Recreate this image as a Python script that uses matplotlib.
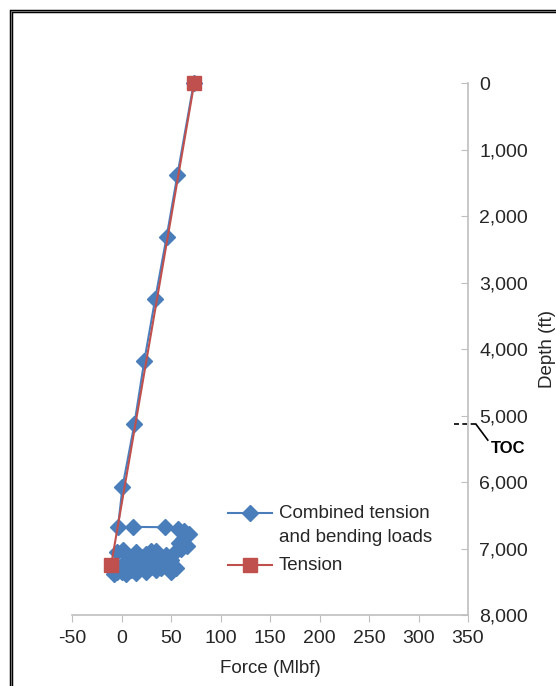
# Casing string loads: combined tension and bending vs. plain tension along depth.
import matplotlib.pyplot as plt
from matplotlib.lines import Line2D
from matplotlib.patches import Rectangle

plt.rcParams['font.family'] = ['Liberation Sans', 'DejaVu Sans']

# Combined tension and bending loads (Mlbf, ft)
combined_force = [73, 56.5, 45.5, 34, 23, 13, 1, -3.5, 12, 44, 57, 63, 68, 62,
                  58, 66, 60, 55, 30, 2, -5, 5, 15, 25, 35, 45, 50, 40, 30,
                  20, 10, 0, -8, 0, 10, 20, 30, 40, 50, 55, 45, 35, 25, 15,
                  5, -5, -8]
combined_depth = [0, 1380, 2320, 3250, 4180, 5130, 6075, 6675, 6675, 6680, 6700,
                  6740, 6780, 6850, 6920, 6960, 7010, 7040, 7040, 7020, 7060,
                  7080, 7060, 7080, 7040, 7100, 7180, 7200, 7180, 7220, 7190,
                  7250, 7300, 7350, 7330, 7300, 7280, 7300, 7350, 7300, 7250,
                  7320, 7350, 7370, 7380, 7350, 7380]

# Tension only
tension_force = [73.5, -10.5]
tension_depth = [0, 7250]

# Top of cement
toc_depth = 5130

x_ticks = list(range(-50, 351, 50))
y_ticks = list(range(0, 8001, 1000))

BLUE = '#4a7ebb'
RED = '#c0504d'

fig = plt.figure(figsize=(5.56, 6.86), dpi=100)
ax = fig.add_axes([72 / 556, 71 / 686, 396 / 556, 532 / 686])

ax.plot(combined_force, combined_depth, color=BLUE, lw=1.5, marker='D',
        ms=8, mec=BLUE, zorder=3, clip_on=False)
ax.plot(tension_force, tension_depth, color=RED, lw=1.5, marker='s',
        ms=10, zorder=4, clip_on=False)

ax.set_xlim(-50, 350)
ax.set_ylim(8000, 0)
ax.set_xticks(x_ticks)
ax.set_xticklabels([str(v) for v in x_ticks])
ax.set_yticks(y_ticks)
ax.set_yticklabels([f'{v:,}' for v in y_ticks])

# depth axis sits on the right
ax.yaxis.tick_right()
ax.yaxis.set_label_position('right')
for side in ['top', 'left']:
    ax.spines[side].set_visible(False)
for side in ['bottom', 'right']:
    ax.spines[side].set_color('#bfbfbf')
    ax.spines[side].set_linewidth(1.2)
ax.tick_params(axis='x', direction='out', length=5, color='#bfbfbf',
               labelsize=14, colors='#bfbfbf', labelcolor='#262626', pad=6)
ax.tick_params(axis='y', direction='in', length=5, color='#bfbfbf',
               labelsize=14, colors='#bfbfbf', labelcolor='#262626', pad=8)
ax.set_xlabel('Force (Mlbf)', fontsize=13.5, color='#262626', labelpad=9)
ax.set_ylabel('Depth (ft)', fontsize=13.5, color='#262626', labelpad=8)

# TOC marker
ax.plot([336, 358], [toc_depth, toc_depth], color='black', lw=1.2,
        ls=(0, (3, 2)), clip_on=False)
ax.plot([358, 370], [toc_depth, toc_depth + 240], color='black', lw=1.2,
        clip_on=False)
ax.text(373, toc_depth + 360, 'TOC', fontsize=12, fontweight='bold',
        va='center', ha='left')

# legend, handles aligned with the first text line
def px(x, y):
    return x / 556, 1 - y / 686

def legend_entry(y, color, marker, ms, label):
    x0, yy = px(228, y)
    x1, _ = px(272, y)
    xm, _ = px(250, y)
    fig.add_artist(Line2D([x0, x1], [yy, yy], color=color, lw=1.5,
                          transform=fig.transFigure))
    fig.add_artist(Line2D([xm], [yy], color=color, marker=marker, ms=ms,
                          mec=color, transform=fig.transFigure))
    tx, ty = px(279, y)
    fig.text(tx, ty, label, fontsize=13.5, color='#262626', va='center',
             ha='left')

legend_entry(513, BLUE, 'D', 8, 'Combined tension')
fig.text(*px(279, 537), 'and bending loads', fontsize=13.5, color='#262626',
         va='center', ha='left')
legend_entry(565, RED, 's', 10, 'Tension')

# outer frame
fig.add_artist(Rectangle((11 / 556, -0.1), 1.1, 1 - 11 / 686 + 0.1,
                         transform=fig.transFigure, fill=False,
                         ec='black', lw=2.5))
fig.add_artist(Rectangle((11 / 556, -0.1), 1.1, 1 - 11 / 686 + 0.1,
                         transform=fig.transFigure, fill=False,
                         ec='#888888', lw=0.6))

fig.savefig('out.png', dpi=100)
